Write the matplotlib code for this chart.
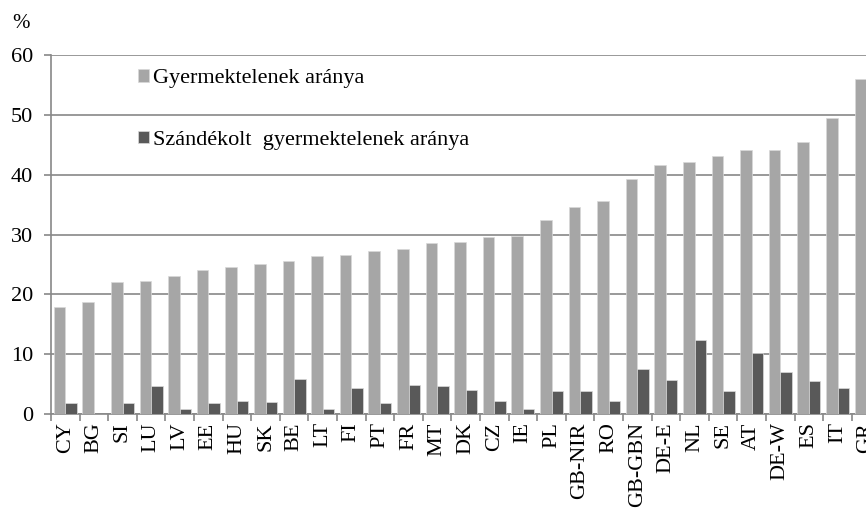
import matplotlib
matplotlib.use('Agg')
import numpy as np
import matplotlib.pyplot as plt

plt.rcParams['font.family'] = ['Liberation Serif', 'DejaVu Serif']

# adatok
countries = ['CY', 'BG', 'SI', 'LU', 'LV', 'EE', 'HU', 'SK', 'BE', 'LT', 'FI', 'PT', 'FR', 'MT',
             'DK', 'CZ', 'IE', 'PL', 'GB-NIR', 'RO', 'GB-GBN', 'DE-E', 'NL', 'SE', 'AT', 'DE-W',
             'ES', 'IT', 'GR']
childless = [17.9, 18.7, 22.1, 22.2, 23.0, 24.0, 24.6, 25.0, 25.6, 26.4, 26.6, 27.2, 27.5, 28.5,
             28.8, 29.5, 29.8, 32.5, 34.6, 35.6, 39.3, 41.6, 42.1, 43.2, 44.1, 44.2,
             45.4, 49.4, 56.0]
intended = [1.8, 0.0, 1.9, 4.7, 0.8, 1.8, 2.1, 2.0, 5.8, 0.8, 4.4, 1.8, 4.9, 4.7,
            4.0, 2.2, 0.8, 3.8, 3.8, 2.1, 7.5, 5.7, 12.3, 3.8, 10.2, 7.0,
            5.5, 4.3, 3.6]
labels = ['Gyermektelenek aránya', 'Szándékolt  gyermektelenek aránya']

fig = plt.figure(figsize=(8.66, 5.09), dpi=100)
# a tengely jobbra kilóg a képből (mint az eredetin)
ax = fig.add_axes([51 / 866, 1 - 414 / 509, 29 * 28.6 / 866, (414 - 55) / 509])

x = np.arange(len(countries))
w = 0.4
ax.bar(x - w / 2, childless, width=w, color='#a6a6a6', edgecolor='#d9d9d9', linewidth=0.5,
       label=labels[0], zorder=3)
ax.bar(x + w / 2, intended, width=w, color='#595959', edgecolor='#d9d9d9', linewidth=0.5,
       label=labels[1], zorder=3)

ax.set_xlim(-0.5, len(countries) - 0.5)
ax.set_ylim(0, 60)
ax.set_yticks(range(0, 61, 10))
ax.yaxis.grid(True, color='#888888', linewidth=1.2, zorder=0)
ax.set_axisbelow(True)

for s in ['top', 'right']:
    ax.spines[s].set_visible(False)
for s in ['left', 'bottom']:
    ax.spines[s].set_color('#888888')
    ax.spines[s].set_linewidth(1.2)

ax.set_xticks(x)
ax.set_xticklabels(countries, rotation=90, fontsize=16)
ax.set_xticks(np.arange(-0.5, len(countries), 1), minor=True)
ax.tick_params(axis='x', which='major', length=0, pad=6)
ax.tick_params(axis='x', which='minor', length=5, width=1.2, color='#888888')
ax.tick_params(axis='y', length=5, width=1.2, color='#888888', labelsize=16, pad=8)

ax.legend(loc='upper left', bbox_to_anchor=(0.094, 0.985), frameon=False, fontsize=16,
          labelspacing=1.9, handlelength=0.5, handleheight=0.5, handletextpad=0.2,
          borderaxespad=0)

fig.text(21 / 866, 1 - 23 / 509, '%', fontsize=15, ha='center', va='center')

fig.savefig('out.png', dpi=100)
